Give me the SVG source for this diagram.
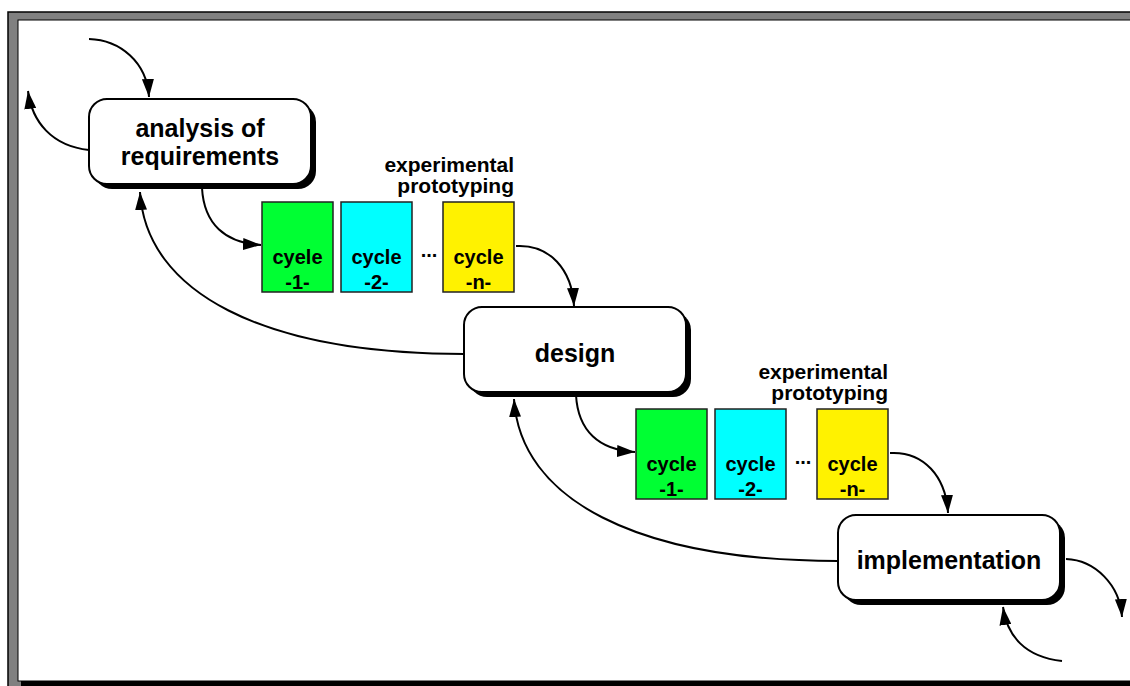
<svg xmlns="http://www.w3.org/2000/svg" width="1130" height="686" viewBox="0 0 1130 686">
<style>
.node{fill:#fff;stroke:#000;stroke-width:2}
.shadow{fill:#000}
.nt{font-family:"Liberation Sans",Arial,sans-serif;font-weight:bold;font-size:25px;text-anchor:middle;fill:#000}
.ct{font-family:"Liberation Sans",Arial,sans-serif;font-weight:bold;font-size:20px;text-anchor:middle;fill:#000}
.lt{font-family:"Liberation Sans",Arial,sans-serif;font-weight:bold;font-size:21px;text-anchor:end;fill:#000}
.cyc{stroke:#222;stroke-width:1.5}
.conn path{fill:none;stroke:#000;stroke-width:2;marker-end:url(#ah)}
</style>
<defs>
<marker id="ah" markerUnits="userSpaceOnUse" markerWidth="20" markerHeight="12" refX="18" refY="6" orient="auto" viewBox="0 0 20 12">
<path d="M0,0 L18,6 L0,12 z" fill="#000"/>
</marker>
</defs>
<!-- frame -->
<rect x="8" y="12" width="1140" height="690" fill="#808080" stroke="#000" stroke-width="1.5"/>
<rect x="18" y="20" width="1130" height="661" fill="#fff" stroke="#000" stroke-width="1"/>
<rect x="21" y="681" width="1109" height="5" fill="#000"/>

<g class="conn" id="connectors">
<path d="M89 39 C120 40 147 62 149 97"/>
<path d="M89 150 C52 146 32 122 28 91"/>
<path d="M202 188 C204 224 225 243 261 245"/>
<path d="M516 246 C550 244 572 270 574 306"/>
<path d="M464 354 C262 354 146 292 140 192"/>
<path d="M576 395 C578 431 599 450 635 452"/>
<path d="M890 453 C924 451 946 477 948 513"/>
<path d="M838 561 C636 561 520 499 514 399"/>
<path d="M1066 559 C1095 560 1120 585 1122 617"/>
<path d="M1062 661 C1025 657 1007 636 1003 607"/>
</g>

<g id="analysis">
<rect class="shadow" x="94" y="104" width="222" height="85" rx="18"/>
<rect class="node" x="89" y="99" width="222" height="85" rx="18"/>
<text class="nt" x="200" y="137">analysis of</text>
<text class="nt" x="200" y="165">requirements</text>
</g>

<g id="design">
<rect class="shadow" x="469" y="312" width="222" height="85" rx="18"/>
<rect class="node" x="464" y="307" width="222" height="85" rx="18"/>
<text class="nt" x="575" y="362">design</text>
</g>

<g id="implementation">
<rect class="shadow" x="843" y="520" width="222" height="85" rx="18"/>
<rect class="node" x="838" y="515" width="222" height="85" rx="18"/>
<text class="nt" x="949" y="569">implementation</text>
</g>

<g id="proto1">
<text class="lt" x="514" y="172">experimental</text>
<text class="lt" x="514" y="193">prototyping</text>
</g>
<g id="cycle1a">
<rect class="cyc" x="262" y="202" width="71" height="90" fill="#00ff33"/>
<text class="ct" x="297.5" y="264">cyele</text>
<text class="ct" x="297.5" y="289">-1-</text>
</g>
<g id="cycle2a">
<rect class="cyc" x="341" y="202" width="71" height="90" fill="#00ffff"/>
<text class="ct" x="376.5" y="264">cycle</text>
<text class="ct" x="376.5" y="289">-2-</text>
</g>
<text class="ct" x="429" y="257">...</text>
<g id="cycleNa">
<rect class="cyc" x="443" y="202" width="71" height="90" fill="#fff200"/>
<text class="ct" x="478.5" y="264">cycle</text>
<text class="ct" x="478.5" y="289">-n-</text>
</g>

<g id="proto2">
<text class="lt" x="888" y="379">experimental</text>
<text class="lt" x="888" y="400">prototyping</text>
</g>
<g id="cycle1b">
<rect class="cyc" x="636" y="409" width="71" height="90" fill="#00ff33"/>
<text class="ct" x="671.5" y="471">cycle</text>
<text class="ct" x="671.5" y="496">-1-</text>
</g>
<g id="cycle2b">
<rect class="cyc" x="715" y="409" width="71" height="90" fill="#00ffff"/>
<text class="ct" x="750.5" y="471">cycle</text>
<text class="ct" x="750.5" y="496">-2-</text>
</g>
<text class="ct" x="803" y="464">...</text>
<g id="cycleNb">
<rect class="cyc" x="817" y="409" width="71" height="90" fill="#fff200"/>
<text class="ct" x="852.5" y="471">cycle</text>
<text class="ct" x="852.5" y="496">-n-</text>
</g>
</svg>
